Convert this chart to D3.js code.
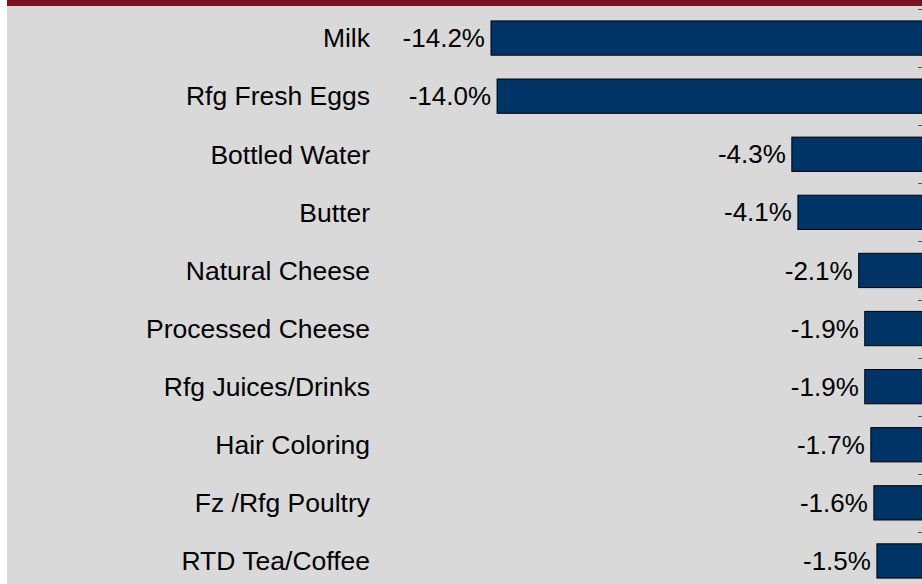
<!DOCTYPE html>
<html><head><meta charset="utf-8">
<script src="https://cdn.jsdelivr.net/npm/d3@7"></script>
<style>
html,body{margin:0;padding:0;background:#fff;overflow:hidden;}
svg{display:block;}
</style></head>
<body>
<script>
const categories = ["Milk","Rfg Fresh Eggs","Bottled Water","Butter","Natural Cheese","Processed Cheese","Rfg Juices/Drinks","Hair Coloring","Fz /Rfg Poultry","RTD Tea/Coffee"];
const values = [-14.2,-14.0,-4.3,-4.1,-2.1,-1.9,-1.9,-1.7,-1.6,-1.5];
const valueLabels = ["-14.2%","-14.0%","-4.3%","-4.1%","-2.1%","-1.9%","-1.9%","-1.7%","-1.6%","-1.5%"];

const W = 922, H = 584;
const svg = d3.select("body").append("svg").attr("width", W).attr("height", H);
svg.append("rect").attr("x",7).attr("y",0).attr("width",W-7).attr("height",H).attr("fill","#d9d9d9");
svg.append("rect").attr("x",7).attr("y",0).attr("width",W-7).attr("height",6).attr("fill","#7b1020");

const x = d3.scaleLinear().domain([-14.2, 0]).range([491, 922.5]);
const y = d3.scaleBand().domain(categories).range([9, 590]).paddingInner(0.41).paddingOuter(0.205);

// band boundary ticks at right edge
const step = y.step();
const tickYs = d3.range(categories.length + 1).map(i => 9 + i * step);
svg.selectAll("line.tk").data(tickYs).join("line")
  .attr("x1", 918).attr("x2", 922).attr("y1", d => Math.round(d)+0.5).attr("y2", d => Math.round(d)+0.5)
  .attr("stroke", "#555").attr("stroke-width", 1);

svg.selectAll("rect.bar").data(values).join("rect")
  .attr("class","bar")
  .attr("x", d => x(d))
  .attr("y", (d,i) => y(categories[i]))
  .attr("width", d => x(0) - x(d) + 2)
  .attr("height", y.bandwidth())
  .attr("fill", "#003366").attr("stroke", "#000").attr("stroke-width", 1);

svg.selectAll("text.cat").data(categories).join("text")
  .attr("x", 370).attr("y", d => y(d) + y.bandwidth()/2)
  .attr("dy", "0.35em").attr("text-anchor","end")
  .attr("font-family","Liberation Sans, Arial, sans-serif").attr("font-size", 26.5).attr("fill","#000")
  .text(d => d);

svg.selectAll("text.val").data(values).join("text")
  .attr("x", d => x(d) - 6).attr("y", (d,i) => y(categories[i]) + y.bandwidth()/2)
  .attr("dy", "0.35em").attr("text-anchor","end")
  .attr("font-family","Liberation Sans, Arial, sans-serif").attr("font-size", 26).attr("fill","#000")
  .text((d,i) => valueLabels[i]);
</script>
</body></html>
